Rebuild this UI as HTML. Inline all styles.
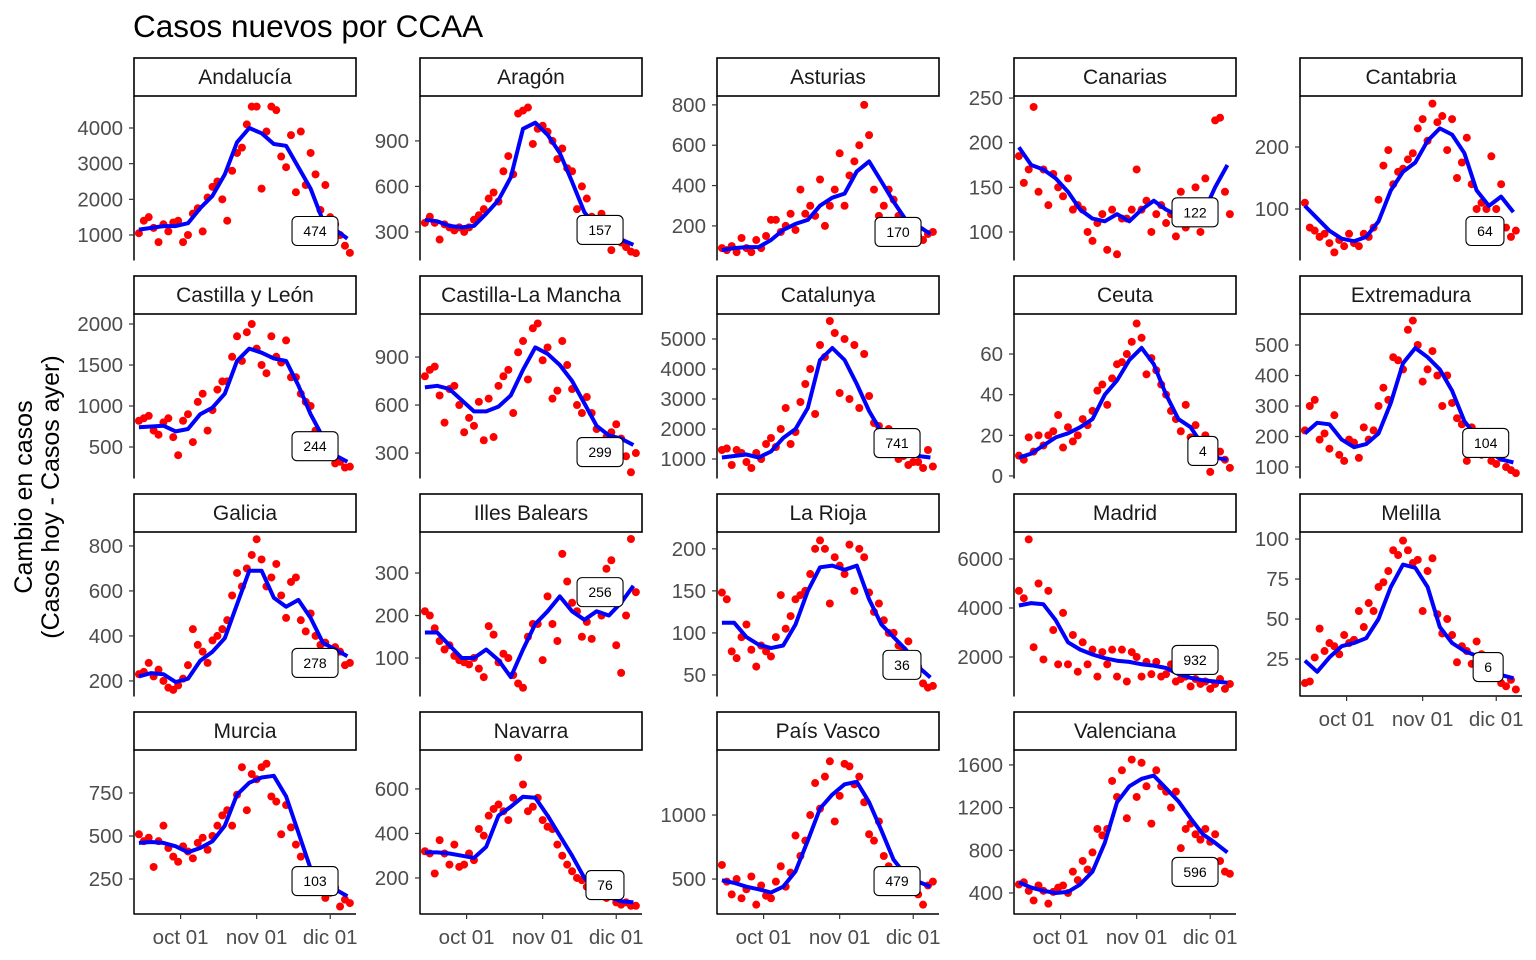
<!DOCTYPE html>
<html><head><meta charset="utf-8"><style>
html,body{margin:0;padding:0;background:#fff;}
svg{display:block;font-family:"Liberation Sans",Arial,sans-serif;}
</style></head><body>
<svg id="chart" width="1536" height="960" viewBox="0 0 1536 960" xmlns="http://www.w3.org/2000/svg">
<text x="133" y="37" font-size="31.5" fill="#000">Casos nuevos por CCAA</text>
<g transform="translate(32,497) rotate(-90)">
<text x="0" y="0" text-anchor="middle" font-size="25" fill="#000">Cambio en casos</text>
<text x="0" y="27" text-anchor="middle" font-size="25" fill="#000">(Casos hoy - Casos ayer)</text>
</g>
</svg>
<script>
const regions = ["Andalucía","Aragón","Asturias","Canarias","Cantabria","Castilla y León","Castilla-La Mancha","Catalunya","Ceuta","Extremadura","Galicia","Illes Balears","La Rioja","Madrid","Melilla","Murcia","Navarra","País Vasco","Valenciana"];
const yDomains = [[299,4897],[115,1196],[31,844],[68.6,252.3],[17.7,282.3],[122,2122],[144,1169],[367,5833],[-1,79.7],[64,601.6],[133,862],[10.6,396.5],[25,220],[408,7102],[1.9,104.4],[46.5,1000],[38,775],[227,1508],[203,1740]];
const yTicks = [[1000,2000,3000,4000],[300,600,900],[200,400,600,800],[100,150,200,250],[100,200],[500,1000,1500,2000],[300,600,900],[1000,2000,3000,4000,5000],[0,20,40,60],[100,200,300,400,500],[200,400,600,800],[100,200,300],[50,100,150,200],[2000,4000,6000],[25,50,75,100],[250,500,750],[200,400,600],[500,1000],[400,800,1200,1600]];
const xTickDays = [19,50,80];
const xTickLabels = ["oct 01","nov 01","dic 01"];
const lastValues = [474,157,170,122,64,244,299,741,4,104,278,256,36,932,6,103,76,479,596];
const labelDays = [73.8,73.4,73.8,73.8,75.4,73.8,73.4,73.4,77,75.7,73.8,73.4,75.4,73.8,76.7,73.8,75.4,73.4,73.8];
const labelVals = [1112,313,170,122,64.5,510,306,1533,12.3,179,280,255,62,1878,20,238,168,484,597];
// smoothed line values at days 2,7,12,...,87
const lineVals = [
[1150,1200,1250,1250,1330,1750,2100,2700,3600,4000,3850,3550,3500,2900,2300,1400,1150,900],
[380,370,340,330,340,420,510,660,980,1020,940,820,630,430,330,280,250,215],
[80,90,95,95,130,180,210,230,300,340,360,470,520,420,320,230,200,160],
[195,175,170,160,145,125,115,112,120,112,125,135,125,118,115,120,150,175],
[105,85,65,52,48,55,80,130,160,175,210,230,220,190,130,105,120,95],
[740,750,760,690,720,900,980,1150,1550,1700,1650,1580,1550,1250,900,620,400,320],
[710,720,700,630,560,560,590,660,820,960,920,850,750,610,470,410,390,350],
[1050,1100,1150,1050,1250,1700,2000,2700,4300,4700,4300,3500,2600,1900,1500,1200,1100,1050],
[9,11,15,19,21,24,28,40,47,57,63,55,40,28,24,15,9,8],
[210,245,240,190,165,175,210,310,440,490,460,420,350,250,200,150,125,115],
[220,235,230,195,210,290,330,390,540,690,690,570,530,560,480,370,340,310],
[160,160,130,100,100,120,95,55,120,180,210,245,210,190,210,200,230,270],
[112,112,95,86,82,85,110,150,178,180,175,180,140,110,95,80,60,47],
[4100,4200,4150,3500,2600,2300,2100,1950,1850,1800,1700,1650,1550,1300,1150,1050,1000,950],
[24,17,26,33,35,38,50,70,84,82,70,45,35,30,27,20,15,13],
[460,465,460,440,405,430,470,560,740,810,840,850,730,520,310,230,190,150],
[315,315,310,300,290,340,480,520,565,560,480,390,300,200,145,115,95,90],
[490,470,440,420,395,440,560,800,1050,1160,1240,1260,1100,880,650,530,480,440],
[500,450,420,400,410,480,600,870,1250,1400,1470,1500,1380,1260,1100,950,870,780]
];
// daily points sampled at days 2,4,...,88
const pointVals = [
[1050,1400,1500,1200,800,1300,1100,1350,1400,800,1000,1600,1750,1100,2050,2350,2500,2000,1400,2800,3300,3450,4100,4600,4600,2300,3900,4600,4500,3200,2900,3800,2200,3900,2400,3300,2700,1700,2400,1500,1300,1000,700,500],
[360,400,360,250,350,330,310,330,300,330,380,410,450,520,560,500,700,800,680,1080,1100,1120,880,980,1000,960,900,780,850,720,700,450,600,520,400,360,420,260,180,300,230,200,170,160],
[90,80,100,70,140,90,70,130,90,150,230,230,170,200,260,180,380,260,300,250,430,200,300,380,560,300,450,520,600,800,650,380,250,300,380,330,250,220,180,200,150,130,160,170],
[185,155,170,240,145,170,130,165,150,140,160,125,130,125,100,90,110,120,80,125,75,115,115,125,170,125,135,100,120,130,110,120,95,145,105,110,150,100,160,130,225,228,145,120],
[110,70,65,55,60,45,30,50,40,60,45,40,60,55,70,115,170,195,140,160,165,180,190,230,245,210,270,240,250,195,245,150,175,215,140,100,110,100,185,100,140,70,55,65],
[820,850,880,700,650,800,850,620,400,820,900,560,1050,1150,700,950,1200,1300,1300,1600,1850,1550,1900,2000,1700,1500,1400,1850,1600,1530,1800,1350,1350,1150,1050,1000,700,550,600,500,300,320,250,260],
[780,820,840,660,490,700,720,600,430,520,470,620,380,640,400,720,780,820,550,930,1000,760,1080,1110,880,960,640,690,1000,850,700,600,550,650,550,450,350,400,430,480,390,280,180,300],
[1300,1350,800,1300,1200,900,700,1200,1000,1500,1700,1400,2000,2700,1500,1900,2900,3500,4000,2500,4800,4400,5600,5200,3200,5000,3000,4800,2700,4500,3100,2200,2100,1600,2000,1300,1000,1100,800,900,900,700,1300,750],
[10,8,19,12,20,15,20,22,30,14,24,17,20,28,25,32,42,45,35,48,55,56,60,66,75,68,50,58,52,45,40,32,28,22,35,19,25,13,20,2,10,12,8,4],
[220,300,320,190,210,160,270,140,120,190,180,130,230,190,220,300,360,320,460,450,420,550,580,500,380,420,480,400,300,400,310,260,240,120,230,200,140,180,120,110,130,100,90,80],
[230,240,280,220,250,200,170,160,180,210,270,430,360,330,280,380,400,430,470,580,680,620,700,760,830,740,620,660,720,580,480,640,660,470,420,500,400,360,370,320,350,330,270,280],
[210,200,170,140,120,130,105,95,90,85,100,75,55,175,155,90,110,100,60,40,30,150,180,180,95,245,180,140,345,280,230,210,150,185,145,240,200,310,330,130,65,200,380,255],
[148,140,78,70,95,110,80,60,85,78,72,95,145,105,120,140,145,150,170,200,210,200,135,190,180,170,205,150,200,190,148,125,135,115,100,100,85,80,90,70,60,40,35,37],
[4700,4400,6800,2400,5000,1900,4700,3100,1700,3800,1700,2900,1400,2600,1700,2300,1200,2200,1700,2300,1200,2300,1000,2200,2000,1200,1800,1300,1800,1200,1300,1700,1000,1100,1200,800,1100,900,1000,700,900,1100,700,900],
[10,11,26,44,30,35,33,28,40,35,37,55,45,60,55,70,73,80,93,90,99,93,85,87,55,80,88,53,41,50,40,23,33,30,22,36,28,20,14,16,10,8,12,6],
[510,470,490,320,470,560,430,380,350,440,410,370,460,490,420,500,560,620,650,560,740,900,650,860,830,900,920,730,700,510,680,550,450,380,300,250,190,210,140,170,200,90,130,110],
[320,310,220,370,310,260,350,250,260,310,280,420,390,480,510,530,500,460,560,740,620,500,520,560,460,430,420,350,300,260,230,200,190,160,150,140,120,110,120,90,80,90,75,75],
[610,480,380,500,350,420,520,300,450,370,350,480,600,440,550,840,680,800,1000,1250,1050,1300,1420,950,1150,1400,1380,1240,1300,1100,850,800,950,680,600,570,550,480,520,470,380,300,450,480],
[480,500,420,330,470,420,300,410,450,470,400,600,520,700,620,780,1000,940,1000,1450,1300,1550,1100,1650,1300,1620,1400,1050,1550,1400,1350,1200,1350,820,1000,1050,950,900,1000,880,950,700,600,580]
];
const colLefts=[134,420,717,1014,1300], rowTops=[96,314,532,750], PW=222, PH=164, DAYMAX=90.5;
const bottomPanels=[14,15,16,17,18];
const svg=document.getElementById('chart');
const NS='http://www.w3.org/2000/svg';
function mk(tag,attrs,parent){const e=document.createElementNS(NS,tag);for(const k in attrs)e.setAttribute(k,attrs[k]);(parent||svg).appendChild(e);return e;}
regions.forEach((name,p)=>{
  const col=p%5,row=Math.floor(p/5);
  const L=colLefts[col],T=rowTops[row],B=T+PH;
  const dom=yDomains[p];
  const xs=d=>L+d/DAYMAX*PW;
  const ys=v=>B-(v-dom[0])/(dom[1]-dom[0])*PH;
  const g=mk('g',{});
  
  
  const strip=mk('rect',{x:L,y:T-38,width:PW,height:38,fill:'#fff',stroke:'#000','stroke-width':1.6},g);
  
  
  const st=mk('text',{x:L+PW/2,y:T-12,'text-anchor':'middle','font-size':21,fill:'#1a1a1a'},g);
  st.textContent=name;
  
  
  const ax=mk('line',{x1:L,y1:T,x2:L,y2:B+0.5,stroke:'#000','stroke-width':1.5},g);
  
  
  yTicks[p].forEach(t=>{
    const y=ys(t);
    const tk=mk('line',{x1:L-5,y1:y,x2:L,y2:y,stroke:'#333','stroke-width':1.2},g);
    
    
    const tl=mk('text',{x:L-11,y:y+7,'text-anchor':'end','font-size':20.5,fill:'#4d4d4d'},g);
    tl.textContent=t;
    
    
  });
  if(bottomPanels.includes(p)){
    const bx=mk('line',{x1:L,y1:B,x2:L+PW,y2:B,stroke:'#000','stroke-width':1.5},g);
    
    
    xTickDays.forEach((d,i)=>{
      const x=xs(d);
      const tk=mk('line',{x1:x,y1:B,x2:x,y2:B+5,stroke:'#333','stroke-width':1.2},g);
      
      
      const tl=mk('text',{x:x,y:B+30,'text-anchor':'middle','font-size':20.5,fill:'#4d4d4d'},g);
      tl.textContent=xTickLabels[i];
      
      
    });
  }
  pointVals[p].forEach((v,i)=>{
    const c=mk('circle',{cx:xs(2+2*i),cy:ys(v),r:4,fill:'#ff0000'},g);
    
    
  });
  const pts=lineVals[p].map((v,i)=>xs(2+5*i).toFixed(1)+','+ys(v).toFixed(1)).join(' ');
  const pl=mk('polyline',{points:pts,fill:'none',stroke:'#0000ff','stroke-width':4,'stroke-linejoin':'round'},g);
  
  
  const txt=String(lastValues[p]);
  const w=txt.length*8+22,h=29;
  const cx=xs(labelDays[p]),cy=ys(labelVals[p]);
  const lb=mk('rect',{x:cx-w/2,y:cy-h/2,width:w,height:h,rx:5,fill:'#fff',stroke:'#000','stroke-width':1.1},g);
  
  
  const lt=mk('text',{x:cx,y:cy+5,'text-anchor':'middle','font-size':14,fill:'#000'},g);
  lt.textContent=txt;
  
  
});
</script>
</body></html>
